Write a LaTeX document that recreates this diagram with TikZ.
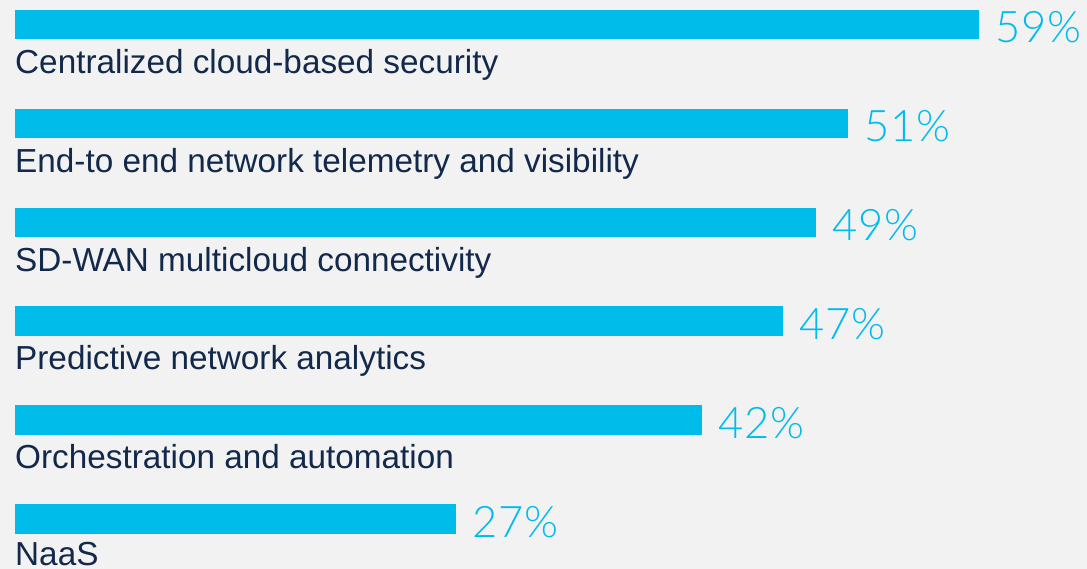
\documentclass[tikz,border=0pt]{standalone}
\usepackage{fontspec}
\setmainfont{Liberation Sans}
\newfontfamily\pctfont{Lato Light}[LetterSpace=2]
\usepackage{tikz}
\definecolor{barcyan}{HTML}{00BCEB}
\definecolor{labelnavy}{HTML}{13294B}
\definecolor{pagegray}{HTML}{F2F2F2}
\tikzset{
  barfill/.style={fill=barcyan, draw=none},
  itemlabel/.style={anchor=base west, inner sep=0pt, text=labelnavy, font=\fontsize{33.3}{36}\selectfont},
  pctlabel/.style={anchor=base west, inner sep=0pt, text=barcyan, font=\pctfont\fontsize{43.5}{46}\selectfont}
}

\begin{document}
\begin{tikzpicture}[x=1pt, y=-1pt]
			%%%%% START %%%%%
			
			\fill[pagegray] (0, 0) rectangle (1087, 569);
			\useasboundingbox (0, 0) rectangle (1087, 569);
			
			\fill[barfill] (15, 10) rectangle (979, 39.5);
			\node[itemlabel] (lbl1) at (15, 73.5) {Centralized cloud-based security};
			\node[pctlabel] (pct1) at (995, 43) {59\%};
			
			\fill[barfill] (15, 108.8) rectangle (848, 138.3);
			\node[itemlabel] (lbl2) at (15, 172.3) {End-to end network telemetry and visibility};
			\node[pctlabel] (pct2) at (864, 141.8) {51\%};
			
			\fill[barfill] (15, 207.6) rectangle (816, 237.1);
			\node[itemlabel] (lbl3) at (15, 271.1) {SD-WAN multicloud connectivity};
			\node[pctlabel] (pct3) at (832, 240.6) {49\%};
			
			\fill[barfill] (15, 306.4) rectangle (783, 335.9);
			\node[itemlabel] (lbl4) at (15, 369.9) {Predictive network analytics};
			\node[pctlabel] (pct4) at (799, 339.4) {47\%};
			
			\fill[barfill] (15, 405.2) rectangle (702, 434.7);
			\node[itemlabel] (lbl5) at (15, 468.7) {Orchestration and automation};
			\node[pctlabel] (pct5) at (718, 438.2) {42\%};
			
			\fill[barfill] (15, 504) rectangle (456, 533.5);
			\node[itemlabel] (lbl6) at (15, 565.5) {NaaS};
			\node[pctlabel] (pct6) at (472, 537) {27\%};
			
			%%%%% END %%%%%
\end{tikzpicture}
\end{document}
